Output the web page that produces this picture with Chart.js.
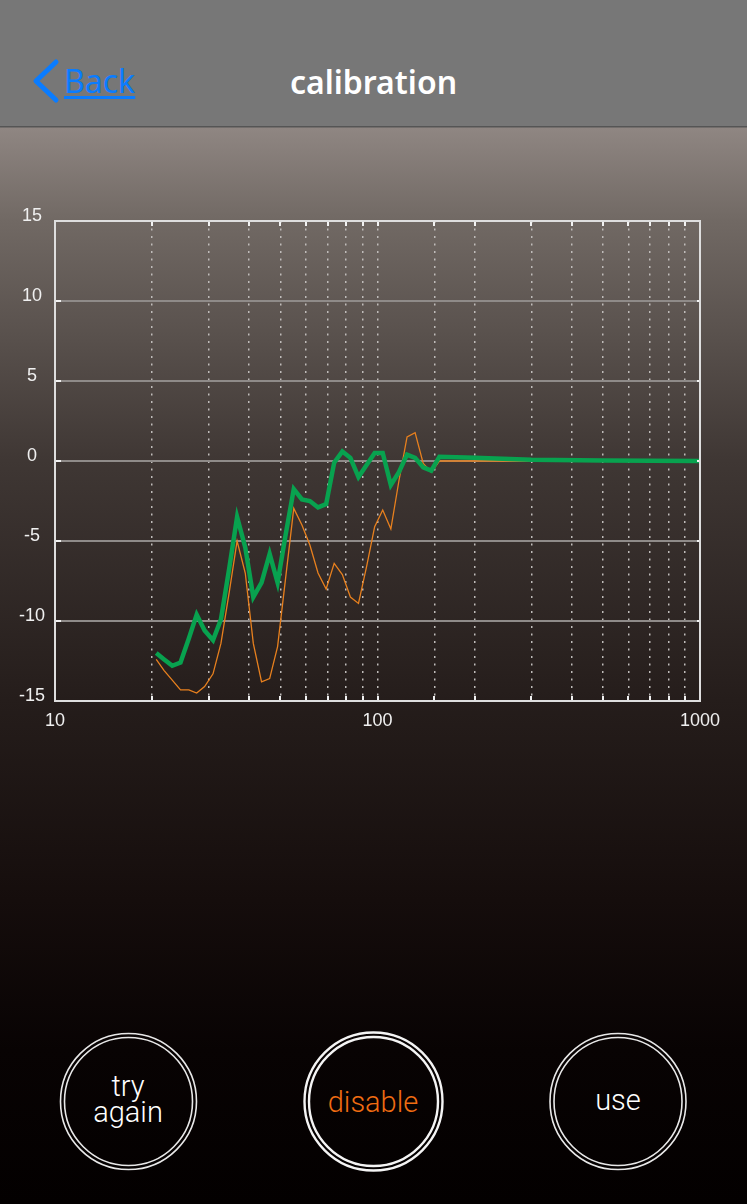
<!DOCTYPE html>
<html>
<head>
<meta charset="utf-8">
<script src="https://cdn.jsdelivr.net/npm/chart.js@4"></script>
<style>
  html, body { margin: 0; padding: 0; }
  body {
    width: 747px; height: 1204px; overflow: hidden; position: relative;
    background: linear-gradient(to bottom,
      #777 0px, #777 126px, #555 126px, #555 127px,
      #8f8682 128px, #716964 220px, #3f3734 460px, #251d1b 700px,
      #150d0c 900px, #080303 1050px, #030000 1204px);
    font-family: "Liberation Sans", Arial, sans-serif;
  }
  #back { position: absolute; left: 30px; top: 56px; width: 120px; height: 50px; }
  #back svg { position: absolute; left: 0; top: 0; }
  #back span {
    position: absolute; left: 34px; top: 3px;
    font: 400 32px "Noto Sans", sans-serif; color: #0a7cff;
    text-decoration: underline; text-decoration-thickness: 3px; text-underline-offset: 3px;
  }
  #title {
    position: absolute; left: 0; width: 747px; top: 60px; text-align: center;
    font: 600 32px "Noto Sans", sans-serif; color: #fff;
  }
  #wrap { position: absolute; left: 0; top: 190px; width: 747px; height: 550px; }
  #buttons { position: absolute; left: 0; top: 1000px; }
  .btxt {
    position: absolute; width: 140px; text-align: center;
    font: 300 29px Roboto, "Liberation Sans", sans-serif; color: #fff; line-height: 26px;
  }
</style>
</head>
<body>
<div id="back">
  <svg width="40" height="50"><polyline points="26,6 6,25 26,44" fill="none" stroke="#0a7cff" stroke-width="5" stroke-linecap="round" stroke-linejoin="round"/></svg>
  <span>Back</span>
</div>
<div id="title">calibration</div>

<div id="wrap"><canvas id="calChart"></canvas></div>

<svg id="buttons" width="747" height="204">
  <circle cx="128.5" cy="101.5" r="68" fill="none" stroke="#e8e8e8" stroke-width="1.6"/>
  <circle cx="128.5" cy="101.5" r="64" fill="none" stroke="#e8e8e8" stroke-width="1.6"/>
  <circle cx="373.5" cy="101.5" r="69" fill="none" stroke="#f4f4f4" stroke-width="2.4"/>
  <circle cx="373.5" cy="101.5" r="64.5" fill="none" stroke="#f4f4f4" stroke-width="2.4"/>
  <circle cx="618" cy="101.5" r="68" fill="none" stroke="#e8e8e8" stroke-width="1.6"/>
  <circle cx="618" cy="101.5" r="64" fill="none" stroke="#e8e8e8" stroke-width="1.6"/>
</svg>
<div class="btxt" style="left:58px; top:1073px;">try<br>again</div>
<div class="btxt" style="left:303px; top:1089px; color:#f06c12;">disable</div>
<div class="btxt" style="left:548px; top:1087px;">use</div>

<script>
// measurement points (Hz) and levels (dB)
const measuredFreq = [20.6, 21.8, 23.1, 24.5, 26.0, 27.5, 29.1, 30.9, 32.7, 34.7, 36.7, 38.9,
  41.2, 43.7, 46.3, 49.0, 51.9, 55.0, 58.3, 61.7, 65.4, 69.3, 73.4, 77.8,
  82.4, 87.3, 92.5, 98.0, 103.8, 110.0, 116.5, 123.5, 130.8, 138.6, 146.8, 155.6,
  200, 300, 500, 1000];

// corrected curve (thick green)
const correctedDb = [-12.0, -12.4, -12.8, -12.6, -11.1, -9.6, -10.6, -11.2, -9.9, -6.7, -3.5, -5.4,
  -8.5, -7.6, -5.8, -7.6, -4.6, -1.75, -2.4, -2.5, -2.9, -2.7, -0.1, 0.6,
  0.2, -1.0, -0.25, 0.5, 0.5, -1.5, -0.7, 0.4, 0.2, -0.4, -0.6, 0.27,
  0.2, 0.08, 0.03, 0.0];

// raw measurement (thin orange)
const rawDb = [-12.4, -13.1, -13.7, -14.3, -14.3, -14.5, -14.1, -13.3, -11.4, -8.2, -5.0, -7.0,
  -11.4, -13.8, -13.6, -11.6, -7.3, -2.96, -4.0, -5.25, -7.0, -8.0, -6.4, -7.1,
  -8.5, -8.9, -6.6, -4.1, -3.06, -4.25, -1.25, 1.5, 1.77, -0.15, -0.7, 0.0,
  0.0, 0.0, 0.0, 0.0];

const xLabelValues = [10, 100, 1000];
const yTickValues = [-15, -10, -5, 0, 5, 10, 15];

function points(ys) {
  return measuredFreq.map((f, i) => ({ x: f, y: ys[i] }));
}

// frame + little inward tick marks, like the app draws
const framePlugin = {
  id: "frame",
  afterDatasetsDraw(chart) {
    const { ctx, chartArea: a, scales } = chart;
    ctx.save();
    ctx.strokeStyle = "#f2f2f2";
    ctx.lineWidth = 2;
    scales.x.ticks.forEach((t) => {
      const px = Math.round(scales.x.getPixelForValue(t.value));
      if (px <= a.left + 2 || px >= a.right - 2) return;
      ctx.beginPath();
      ctx.moveTo(px, a.top); ctx.lineTo(px, a.top + 5);
      ctx.moveTo(px, a.bottom); ctx.lineTo(px, a.bottom - 5);
      ctx.stroke();
    });
    scales.y.ticks.forEach((t) => {
      const py = Math.round(scales.y.getPixelForValue(t.value));
      ctx.beginPath();
      ctx.moveTo(a.left, py); ctx.lineTo(a.left + 6, py);
      ctx.moveTo(a.right, py); ctx.lineTo(a.right - 3, py);
      ctx.stroke();
    });
    ctx.strokeStyle = "#dedede";
    ctx.strokeRect(a.left, a.top, a.right - a.left, a.bottom - a.top);
    ctx.restore();
  },
};

new Chart(document.getElementById("calChart"), {
  type: "line",
  data: {
    datasets: [
      {
        data: points(correctedDb),
        borderColor: "#08a24f",
        borderWidth: 4.5,
        pointRadius: 0,
        tension: 0,
      },
      {
        data: points(rawDb),
        borderColor: "#e8801e",
        borderWidth: 1.3,
        pointRadius: 0,
        tension: 0,
      },
    ],
  },
  options: {
    responsive: true,
    maintainAspectRatio: false,
    animation: false,
    layout: { padding: { top: 31, right: 47, left: 0, bottom: 0 } },
    plugins: { legend: { display: false }, tooltip: { enabled: false } },
    scales: {
      x: {
        type: "logarithmic",
        min: 10,
        max: 1000,
        afterFit: (s) => { s.height = 39; },
        grid: { color: "#bfbcba", lineWidth: 1.5, drawTicks: false },
        border: { display: false, dash: [2, 5.5] },
        ticks: {
          autoSkip: false,
          maxRotation: 0,
          padding: 9,
          color: "#f0f0f0",
          font: { family: "Liberation Sans", size: 18 },
          callback: (v) => (xLabelValues.includes(Number(v)) ? String(v) : ""),
        },
      },
      y: {
        min: -15,
        max: 15,
        afterFit: (s) => { s.width = 55; },
        afterBuildTicks: (s) => { s.ticks = yTickValues.map((v) => ({ value: v })); },
        grid: { color: "#8f8b89", lineWidth: 2, drawTicks: false },
        border: { display: false },
        ticks: {
          padding: 10,
          crossAlign: "center",
          labelOffset: -5,
          color: "#f0f0f0",
          font: { family: "Liberation Sans", size: 18 },
        },
      },
    },
  },
  plugins: [framePlugin],
});
</script>
</body>
</html>
